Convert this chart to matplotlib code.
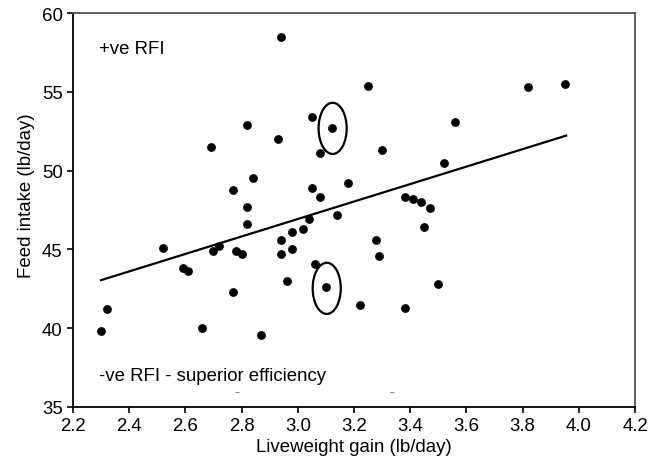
import matplotlib.pyplot as plt
import numpy as np
from matplotlib.patches import Ellipse

plt.rcParams["font.family"] = ["Liberation Sans", "DejaVu Sans"]

# liveweight gain (lb/day) and feed intake (lb/day) of each animal
ganho = [2.30, 2.32, 2.52, 2.59, 2.61, 2.66, 2.69, 2.70, 2.72, 2.77,
         2.77, 2.78, 2.80, 2.82, 2.82, 2.82, 2.84, 2.87, 2.94, 2.93,
         2.94, 2.94, 2.96, 2.98, 2.98, 3.02, 3.04, 3.05, 3.05, 3.06,
         3.08, 3.08, 3.12, 3.10, 3.14, 3.18, 3.22, 3.25, 3.28, 3.29,
         3.30, 3.38, 3.38, 3.41, 3.44, 3.45, 3.47, 3.50, 3.52, 3.56,
         3.82, 3.95]
consumo = [39.8, 41.2, 45.1, 43.8, 43.6, 40.0, 51.5, 44.9, 45.2, 48.8,
           42.3, 44.9, 44.7, 52.9, 47.7, 46.6, 49.5, 39.6, 58.5, 52.0,
           45.6, 44.7, 43.0, 46.1, 45.0, 46.3, 46.9, 53.4, 48.9, 44.1,
           51.1, 48.3, 52.7, 42.6, 47.2, 49.2, 41.5, 55.4, 45.6, 44.6,
           51.3, 48.3, 41.3, 48.2, 48.0, 46.4, 47.6, 42.8, 50.5, 53.1,
           55.3, 55.5]

# regression line end values
reta_x = [2.30, 3.955]
reta_y = [43.05, 52.22]

# the two circled animals
destaque_x = [3.124, 3.103]
destaque_y = [52.68, 42.53]

# faint marks near the bottom of the plot
marcas_x = [2.782, 3.337]
marcas_y = [35.97, 35.97]

ticks_x = np.arange(2.2, 4.21, 0.2)
ticks_y = [35, 40, 45, 50, 55, 60]

TAMANHO_FONTE = 13.4

fig = plt.figure(figsize=(6.5, 4.64), dpi=100)
ax = fig.add_axes([0.1123, 0.1207, 0.8646, 0.8491])

ax.scatter(ganho, consumo, s=40, color="black", zorder=3, linewidths=0)
ax.plot(reta_x, reta_y, color="black", linewidth=1.6)
ax.scatter(marcas_x, marcas_y, marker="_", s=12, color="#888888", linewidths=0.8)

for cx, cy in zip(destaque_x, destaque_y):
    ax.add_patch(Ellipse((cx, cy), width=0.1, height=3.25, fill=False,
                         edgecolor="black", linewidth=1.6))

ax.text(2.294, 57.72, "+ve RFI", fontsize=TAMANHO_FONTE, va="center", ha="left")
ax.text(2.294, 36.99, "-ve RFI - superior efficiency", fontsize=TAMANHO_FONTE,
        va="center", ha="left")

ax.set_xlim(2.2, 4.2)
ax.set_ylim(35, 60)
ax.set_xticks(ticks_x)
ax.set_xticklabels([f"{v:.1f}" for v in ticks_x])
ax.set_yticks(ticks_y)
ax.tick_params(direction="out", length=4.5, width=1.2, labelsize=TAMANHO_FONTE,
               pad=3, color="black")

for lado in ["left", "bottom"]:
    ax.spines[lado].set_color("black")
    ax.spines[lado].set_linewidth(1.3)
for lado in ["top", "right"]:
    ax.spines[lado].set_color("#555555")
    ax.spines[lado].set_linewidth(1.3)

fig.text(354 / 650, 1 - 448 / 464, "Liveweight gain (lb/day)", fontsize=TAMANHO_FONTE,
         ha="center", va="center")
fig.text(27 / 650, 1 - 196 / 464, "Feed intake (lb/day)", fontsize=TAMANHO_FONTE,
         ha="center", va="center", rotation=90)

fig.savefig("out.png", dpi=100)
